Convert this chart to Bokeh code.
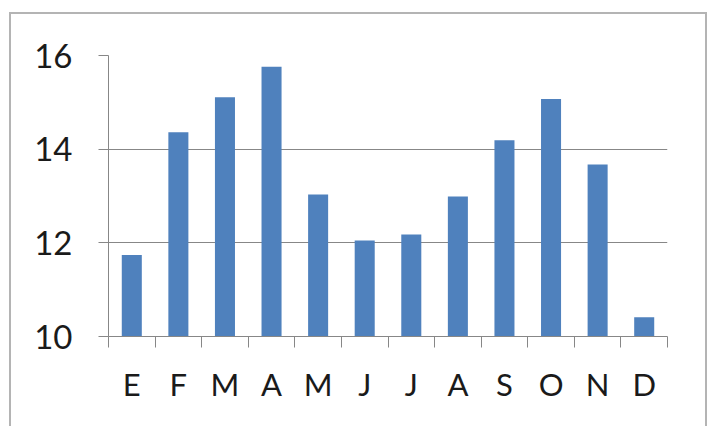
from bokeh.plotting import figure
from bokeh.models import Range1d, FixedTicker, ColumnDataSource
from bokeh.embed import file_html
from bokeh.resources import INLINE

# data
months = ["E", "F", "M", "A", "M", "J", "J", "A", "S", "O", "N", "D"]
values = [11.74, 14.36, 15.11, 15.76, 13.03, 12.05, 12.18, 12.99, 14.19, 15.07, 13.67, 10.41]
y_ticks = [10, 12, 14, 16]

W, H = 698, 414
FONT = "Lato"
GRID = "#878787"

xs = [i + 0.5 for i in range(len(months))]
src = ColumnDataSource(dict(x=xs, top=values))

p = figure(width=W, height=H, output_backend="svg", toolbar_location=None,
           x_range=Range1d(0, len(months)), y_range=Range1d(10, 16),
           min_border_left=97, min_border_right=42,
           min_border_top=41, min_border_bottom=92)
p.outline_line_color = None
p.background_fill_color = "white"
p.border_fill_color = "white"
p.styles = {"margin-left": "9px", "margin-top": "12px",
            "border-left": "2px solid #b4b4b4", "border-right": "2px solid #b4b4b4",
            "border-top": "2px solid #b4b4b4"}

p.vbar(x="x", top="top", bottom=10, width=0.43, source=src,
       fill_color="#4F81BD", line_color=None)

# x axis: labels at centres, ticks at category boundaries
xa = p.xaxis[0]
xa.ticker = FixedTicker(ticks=xs, minor_ticks=list(range(len(months) + 1)))
xa.major_label_overrides = {x: m for x, m in zip(xs, months)}
xa.major_tick_in = 0
xa.major_tick_out = 0
xa.minor_tick_in = 0
xa.minor_tick_out = 11
xa.minor_tick_line_color = GRID
xa.axis_line_color = GRID
xa.major_label_text_font = FONT
xa.major_label_text_font_size = "31px"
xa.major_label_text_color = "#1a1a1a"
xa.major_label_standoff = 17

ya = p.yaxis[0]
ya.ticker = FixedTicker(ticks=y_ticks)
ya.major_tick_in = 0
ya.major_tick_out = 10
ya.minor_tick_line_color = None
ya.major_tick_line_color = GRID
ya.axis_line_color = GRID
ya.major_label_text_font = FONT
ya.major_label_text_font_size = "33px"
ya.major_label_text_color = "#1a1a1a"
ya.major_label_standoff = 26

p.xgrid.grid_line_color = None
p.ygrid.ticker = FixedTicker(ticks=y_ticks)
p.ygrid.grid_line_color = GRID
p.ygrid.grid_line_width = 1

open("out.html", "w").write(file_html(p, INLINE))
